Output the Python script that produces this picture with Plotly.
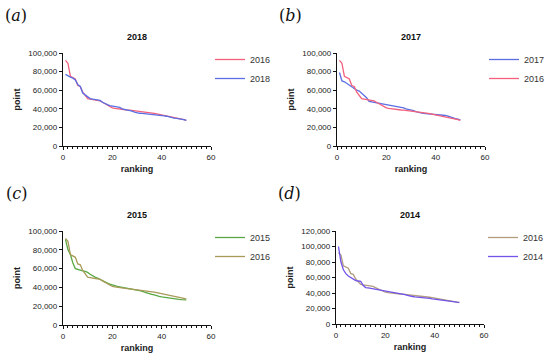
import plotly.graph_objects as go

ranking = list(range(1, 51))

pts_2016 = [92000, 89000, 75000, 73000, 72000, 65000, 64000, 58000, 55000, 51000,
            50500, 50000, 49500, 49000, 48500, 47000, 45500, 44000, 42000, 41000,
            40500, 40000, 39500, 39200, 39000, 38700, 38500, 38200, 38000, 37800,
            37500, 37000, 36500, 36000, 35800, 35500, 35000, 34500, 34000, 33500,
            33000, 32500, 32000, 31500, 31000, 30500, 29800, 29000, 28300, 27500]
pts_2018 = [77000, 75000, 74000, 73000, 71000, 66000, 64000, 57000, 55000, 53000,
            51000, 50500, 50000, 49500, 49000, 47000, 45500, 44500, 43500, 43000,
            42500, 42000, 41500, 40000, 39500, 39000, 38500, 37500, 36500, 35500,
            35200, 35000, 34800, 34500, 34000, 33500, 33200, 33000, 33000, 32800,
            32500, 32000, 31200, 30500, 30000, 29800, 29500, 29000, 28300, 27500]
pts_2017 = [79000, 70000, 69000, 67000, 66000, 63000, 62000, 60000, 59000, 57000,
            54000, 52000, 48000, 47500, 47000, 46500, 46000, 46000, 45500, 45000,
            44000, 43500, 43000, 42500, 42000, 41500, 41000, 40000, 39500, 38500,
            38000, 37000, 36000, 35500, 35000, 34800, 34500, 34200, 34000, 33800,
            33500, 33200, 33000, 32800, 32000, 31000, 30000, 29500, 29000, 28000]
pts_2015 = [91000, 80000, 75000, 66000, 60000, 59000, 58000, 57500, 57000, 56000,
            54000, 52000, 51000, 50000, 48500, 47000, 45500, 44500, 43500, 42500,
            42000, 41000, 40500, 40000, 39500, 39000, 38500, 38000, 37800, 37500,
            37000, 36000, 35000, 34000, 33000, 32500, 32000, 31000, 30500, 30000,
            29500, 29000, 28500, 28000, 27800, 27500, 27300, 27000, 27000, 26800]
pts_2014 = [100000, 80000, 70000, 65000, 62000, 60000, 57000, 56000, 55500, 55000,
            50000, 47000, 46500, 46000, 45500, 45000, 44500, 44000, 43500, 43000,
            42000, 41500, 41000, 40500, 40000, 39500, 39000, 38000, 37000, 36000,
            35500, 35000, 34800, 34500, 34200, 34000, 33500, 33000, 32500, 32000,
            31500, 31000, 30500, 30000, 29500, 29000, 28800, 28500, 28300, 28000]

panels = [
    dict(tag="a", title="2018", series=[("2016", pts_2016, "#f2607c"), ("2018", pts_2018, "#5b6fe3")],
         px=(63, 211), py=(53, 146), ymax=100000),
    dict(tag="b", title="2017", series=[("2017", pts_2017, "#5b6fe3"), ("2016", pts_2016, "#f2607c")],
         px=(337, 485), py=(53, 146), ymax=100000),
    dict(tag="c", title="2015", series=[("2015", pts_2015, "#5aa843"), ("2016", pts_2016, "#a89a58")],
         px=(63, 211), py=(231, 325), ymax=100000),
    dict(tag="d", title="2014", series=[("2016", pts_2016, "#b39c80"), ("2014", pts_2014, "#7254ea")],
         px=(336, 484), py=(231, 324), ymax=120000),
]

W, H = 550, 354
FONT = "Liberation Sans, Arial, sans-serif"
fig = go.Figure()
layout = dict(width=W, height=H, margin=dict(l=0, r=0, t=0, b=0, autoexpand=False),
              paper_bgcolor="white", plot_bgcolor="white", showlegend=True,
              font=dict(family=FONT, size=8, color="#222"))
annotations = []

for i, p in enumerate(panels):
    n = "" if i == 0 else str(i + 1)
    xa, ya = "x" + n, "y" + n
    lg = "legend" + n
    for name, vals, col in p["series"]:
        fig.add_trace(go.Scatter(x=ranking, y=vals, mode="lines", name=name,
                                 line=dict(color=col, width=1.3),
                                 xaxis=xa, yaxis=ya, legend=lg))
    x0, x1 = p["px"]
    y0, y1 = p["py"]
    layout["xaxis" + n] = dict(domain=[x0 / W, x1 / W], range=[0, 60], anchor=ya, automargin=False,
                               tickvals=[0, 20, 40, 60], showgrid=False, zeroline=False,
                               showline=True, linecolor="#111", linewidth=1.3,
                               ticks="outside", ticklen=3, tickwidth=1.2, tickcolor="#111",
                               minor=dict(dtick=2, ticks="outside", ticklen=2, tickwidth=1, tickcolor="#111"),
                               tickfont=dict(size=8, family=FONT, color="#222"),
                               title=dict(text="<b>ranking</b>", font=dict(size=9, family=FONT, color="#222"), standoff=4))
    layout["yaxis" + n] = dict(domain=[1 - y1 / H, 1 - y0 / H], range=[0, p["ymax"]], anchor=xa, automargin=False,
                               dtick=20000, tickformat=",", showgrid=False, zeroline=False,
                               showline=True, linecolor="#111", linewidth=1.3,
                               ticks="outside", ticklen=3, tickwidth=1.2, tickcolor="#111",
                               tickfont=dict(size=8, family=FONT, color="#222"),
                               title=dict(text="<b>point</b>", font=dict(size=9, family=FONT, color="#222"), standoff=6))
    layout[lg] = dict(x=(x1 - 1) / W, y=1 - (y0 - 8) / H, xanchor="left", yanchor="top",
                      bgcolor="rgba(0,0,0,0)", font=dict(size=9, family=FONT, color="#333"),
                      tracegroupgap=0, itemwidth=30)
    cx = (x0 + x1) / 2
    annotations.append(dict(text="<b>" + p["title"] + "</b>", x=cx / W, y=1 - (y0 - 16) / H,
                            xref="paper", yref="paper", showarrow=False,
                            xanchor="center", yanchor="middle",
                            font=dict(size=9, family=FONT, color="#111")))
    annotations.append(dict(text="(<i>" + p["tag"] + "</i>)", x=(x0 - 47) / W, y=1 - (y0 - 38) / H,
                            xref="paper", yref="paper", showarrow=False,
                            xanchor="center", yanchor="middle",
                            font=dict(size=16, family="DejaVu Serif, serif", color="#111")))

layout["annotations"] = annotations
fig.update_layout(**layout)
fig.write_html("out.html", config={"displayModeBar": False})

with open("out.html", "r", encoding="utf-8") as f:
    html = f.read()
html = html.replace("<head>", "<head><style>html,body{margin:0;padding:0;overflow:hidden;}</style>", 1)
with open("out.html", "w", encoding="utf-8") as f:
    f.write(html)
